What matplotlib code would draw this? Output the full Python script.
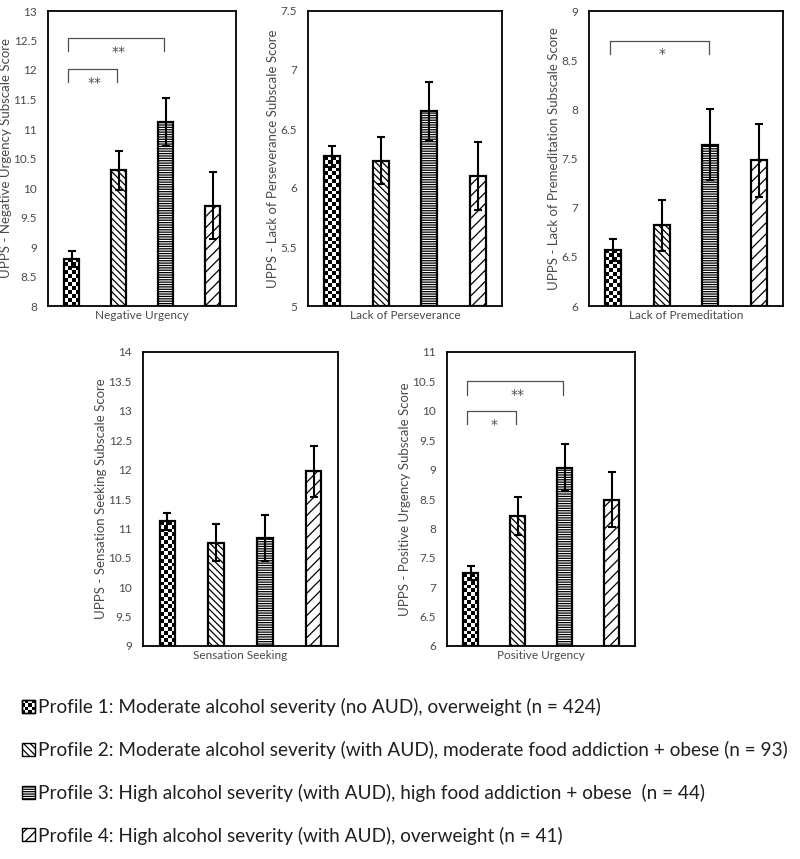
import numpy as np
import matplotlib
matplotlib.use("Agg")
import matplotlib.pyplot as plt
from matplotlib.patches import Rectangle, Patch
from matplotlib.legend_handler import HandlerBase

# ---------------- data ----------------
profiles = [
    "Profile 1: Moderate alcohol severity (no AUD), overweight (n = 424)",
    "Profile 2: Moderate alcohol severity (with AUD), moderate food addiction + obese (n = 93)",
    "Profile 3: High alcohol severity (with AUD), high food addiction + obese  (n = 44)",
    "Profile 4: High alcohol severity (with AUD), overweight (n = 41)",
]

neg_urg_means = [8.80, 10.30, 11.12, 9.70]
neg_urg_errs = [0.14, 0.33, 0.41, 0.57]
persev_means = [6.27, 6.23, 6.65, 6.10]
persev_errs = [0.09, 0.20, 0.25, 0.29]
premed_means = [6.57, 6.82, 7.64, 7.48]
premed_errs = [0.11, 0.26, 0.36, 0.37]
sens_means = [11.12, 10.76, 10.84, 11.97]
sens_errs = [0.14, 0.31, 0.39, 0.43]
pos_urg_means = [7.24, 8.21, 9.03, 8.49]
pos_urg_errs = [0.12, 0.32, 0.40, 0.47]

panel_titles = ["Negative Urgency", "Lack of Perseverance", "Lack of Premeditation",
                "Sensation Seeking", "Positive Urgency"]
ylabels = ["UPPS - Negative Urgency Subscale Score",
           "UPPS - Lack of Perseverance Subscale Score",
           "UPPS - Lack of Premeditation Subscale Score",
           "UPPS - Sensation Seeking Subscale Score",
           "UPPS - Positive Urgency Subscale Score"]
ylims = [(8, 13), (5, 7.5), (6, 9), (9, 14), (6, 11)]
# significance brackets: (group a, group b, y level, label)
neg_urg_sig = [(0, 1, 12.02, "**"), (0, 2, 12.54, "**")]
persev_sig = []
premed_sig = [(0, 2, 8.70, "*")]
sens_sig = []
pos_urg_sig = [(0, 1, 10.00, "*"), (0, 2, 10.50, "**")]

# ---------------- style ----------------
plt.rcParams['hatch.linewidth'] = 0.9
FONT = ['Lato', 'DejaVu Sans']
TXT = '#4a4a4a'

W, H = 800, 859
fig = plt.figure(figsize=(W / 100, H / 100), dpi=100)

def ax_px(l, r, t, b):
    return fig.add_axes([l / W, 1 - b / H, (r - l) / W, (b - t) / H])

axes = [ax_px(48, 236, 11, 306), ax_px(308, 502, 11, 306), ax_px(589, 783, 11, 306),
        ax_px(143, 338, 352, 646), ax_px(447, 635, 352, 646)]

means = [neg_urg_means, persev_means, premed_means, sens_means, pos_urg_means]
errs = [neg_urg_errs, persev_errs, premed_errs, sens_errs, pos_urg_errs]
sigs = [neg_urg_sig, persev_sig, premed_sig, sens_sig, pos_urg_sig]

hatches = [None, '\\\\\\\\\\', '-------', '///']
xpos = np.arange(4) + 0.5
bw = 0.32

def checker(ax, bar):
    x0, y0 = bar.get_x(), bar.get_y()
    w, h = bar.get_width(), bar.get_height()
    p0 = ax.transData.transform((x0, y0))
    p1 = ax.transData.transform((x0 + w, y0 + h))
    cell = 3.8
    nc = max(1, int(round((p1[0] - p0[0]) / cell)))
    nr = max(1, int(round((p1[1] - p0[1]) / cell)))
    arr = (np.add.outer(np.arange(nr), np.arange(nc)) % 2).astype(float)
    im = ax.imshow(arr, extent=[x0, x0 + w, y0, y0 + h], cmap='gray', vmin=0, vmax=1,
                   interpolation='nearest', aspect='auto', zorder=2, origin='lower')
    im.set_clip_path(bar)

for i, ax in enumerate(axes):
    lo, hi = ylims[i]
    ax.set_xlim(0, 4)
    ax.set_ylim(lo, hi)
    bars = ax.bar(xpos, np.array(means[i]) - lo, bottom=lo, width=bw,
                  color='white', edgecolor='black', linewidth=1.6, zorder=3)
    for j, b in enumerate(bars):
        if hatches[j]:
            b.set_hatch(hatches[j])
        else:
            b.set_facecolor('none')
    ax.errorbar(xpos, means[i], yerr=errs[i], fmt='none', ecolor='black',
                elinewidth=1.5, capsize=3, capthick=1.5, zorder=4)
    for sp in ax.spines.values():
        sp.set_linewidth(1.3)
        sp.set_color('black')
    ax.set_xticks([])
    ax.set_yticks(np.arange(lo, hi + 0.001, 0.5))
    ax.set_yticklabels([f"{v:g}" for v in np.arange(lo, hi + 0.001, 0.5)])
    ax.tick_params(axis='y', length=0, pad=8, labelsize=8.5, labelcolor=TXT)
    for lab in ax.get_yticklabels():
        lab.set_family(FONT)
    ax.set_xlabel(panel_titles[i], fontsize=8.5, color=TXT, family=FONT, labelpad=3)
    ax.set_ylabel(ylabels[i], fontsize=9.5, color=TXT, family=FONT, labelpad=1)
    span = hi - lo
    for a, b, yv, lab in sigs[i]:
        xa, xb = xpos[a] - 0.07, xpos[b] - 0.03
        d = 0.045 * span
        ax.plot([xa, xa, xb, xb], [yv - d, yv, yv, yv - d], color='#505050', lw=0.9, zorder=5)
        ax.text((xpos[a] + xpos[b]) / 2, yv - d * 1.05, lab, ha='center', va='center',
                fontsize=10, color='#505050', family='DejaVu Sans')
    checker(ax, bars[0])
    ax.set_xlim(0, 4)
    ax.set_ylim(lo, hi)

# ---------------- legend ----------------
class HandlerChecker(HandlerBase):
    def create_artists(self, legend, orig_handle, xdescent, ydescent, width, height,
                       fontsize, trans):
        arts = [Rectangle((-xdescent, -ydescent), width, height, facecolor='white',
                          edgecolor='black', lw=1.0, transform=trans)]
        n = 4
        cw, ch = width / n, height / n
        for r in range(n):
            for c in range(n):
                if (r + c) % 2 == 0:
                    arts.append(Rectangle((-xdescent + c * cw, -ydescent + r * ch), cw, ch,
                                          facecolor='black', edgecolor='none', transform=trans))
        arts.append(Rectangle((-xdescent, -ydescent), width, height, facecolor='none',
                              edgecolor='black', lw=1.0, transform=trans))
        return arts

handles = [Patch(facecolor='white', edgecolor='black')]
for h in hatches[1:]:
    handles.append(Patch(facecolor='white', edgecolor='black', hatch=h, lw=1.0))
hmap = {handles[0]: HandlerChecker()}
leg = fig.legend(handles, profiles, loc='upper left', bbox_to_anchor=(5 / W, 1 - 681 / H),
                 frameon=False, handlelength=0.66, handleheight=0.66, handletextpad=0.2,
                 labelspacing=1.30, handler_map=hmap,
                 prop={'family': ['Lato', 'DejaVu Sans'], 'size': 13.7})
for t in leg.get_texts():
    t.set_color('#202020')

fig.savefig("out.png", dpi=100)
